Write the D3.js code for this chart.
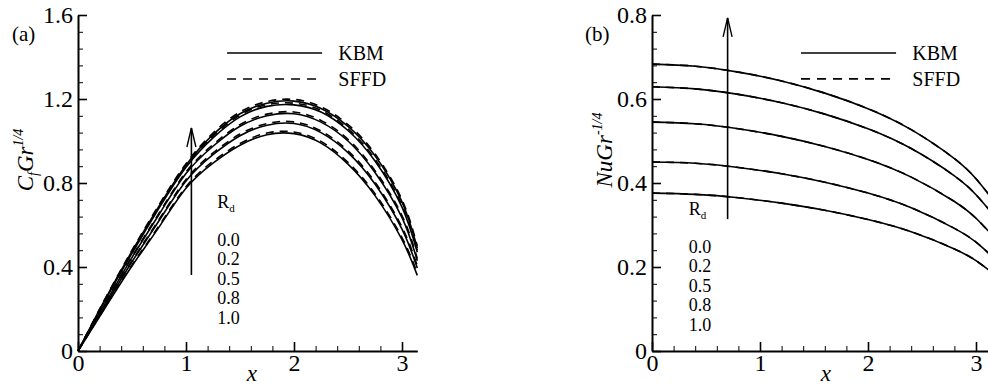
<!DOCTYPE html>
<html>
<head>
<meta charset="utf-8">
<script src="https://cdn.jsdelivr.net/npm/d3@7"></script>
<style>
  body { margin: 0; background: #fff; }
  text { font-family: "Liberation Serif", "Times New Roman", serif; fill: #000; }
</style>
</head>
<body>
<svg id="chart" width="988" height="385"></svg>
<script>
// R_d values, listed bottom curve first
const rdLabels = ['0.0', '0.2', '0.5', '0.8', '1.0'];

// panel (a): skin friction C_f Gr^1/4
const xCf = [0, 0.25, 0.5, 0.75, 1.0, 1.25, 1.5, 1.75, 2.0, 2.25, 2.5, 2.75, 3.0, Math.PI];
const cfKbm = [
  [0, 0.205, 0.405, 0.590, 0.775, 0.895, 0.980, 1.030, 1.035, 0.990, 0.890, 0.740, 0.530, 0.360],
  [0, 0.215, 0.425, 0.620, 0.810, 0.935, 1.025, 1.075, 1.083, 1.040, 0.945, 0.795, 0.580, 0.395],
  [0, 0.225, 0.445, 0.650, 0.845, 0.975, 1.070, 1.120, 1.130, 1.090, 1.000, 0.850, 0.635, 0.430],
  [0, 0.240, 0.465, 0.680, 0.875, 1.015, 1.115, 1.165, 1.172, 1.138, 1.050, 0.905, 0.685, 0.470],
  [0, 0.245, 0.475, 0.690, 0.885, 1.030, 1.130, 1.180, 1.190, 1.155, 1.070, 0.930, 0.710, 0.490]
];
const cfSffd = [
  [0, 0.208, 0.410, 0.596, 0.782, 0.903, 0.988, 1.038, 1.043, 0.998, 0.898, 0.749, 0.540, 0.370],
  [0, 0.218, 0.430, 0.626, 0.817, 0.943, 1.033, 1.083, 1.091, 1.048, 0.953, 0.804, 0.590, 0.405],
  [0, 0.228, 0.450, 0.656, 0.852, 0.983, 1.078, 1.128, 1.138, 1.098, 1.008, 0.859, 0.645, 0.440],
  [0, 0.243, 0.470, 0.686, 0.882, 1.023, 1.123, 1.173, 1.180, 1.146, 1.058, 0.914, 0.695, 0.480],
  [0, 0.248, 0.480, 0.696, 0.892, 1.038, 1.138, 1.188, 1.198, 1.163, 1.078, 0.939, 0.720, 0.500]
];

// panel (b): Nusselt number Nu Gr^-1/4
const xNu = [0, 0.4, 0.8, 1.2, 1.6, 2.0, 2.4, 2.8, 3.0, Math.PI];
const nuKbm = [
  [0.376, 0.373, 0.365, 0.352, 0.335, 0.313, 0.284, 0.243, 0.215, 0.188],
  [0.450, 0.447, 0.437, 0.422, 0.402, 0.376, 0.341, 0.292, 0.259, 0.227],
  [0.545, 0.541, 0.529, 0.511, 0.487, 0.456, 0.414, 0.356, 0.316, 0.278],
  [0.629, 0.624, 0.611, 0.591, 0.564, 0.529, 0.482, 0.417, 0.372, 0.330],
  [0.683, 0.678, 0.664, 0.643, 0.614, 0.577, 0.527, 0.458, 0.410, 0.365]
];
const nuSffd = [
  [0.376, 0.373, 0.365, 0.352, 0.335, 0.313, 0.284, 0.243, 0.215, 0.188],
  [0.450, 0.447, 0.437, 0.422, 0.402, 0.376, 0.341, 0.292, 0.259, 0.227],
  [0.545, 0.541, 0.529, 0.511, 0.487, 0.456, 0.414, 0.356, 0.316, 0.278],
  [0.629, 0.624, 0.611, 0.591, 0.564, 0.529, 0.482, 0.417, 0.372, 0.330],
  [0.683, 0.678, 0.664, 0.643, 0.614, 0.577, 0.527, 0.458, 0.410, 0.365]
];

const xTicks = [0, 1, 2, 3];
const cfTicks = [0, 0.4, 0.8, 1.2, 1.6];
const nuTicks = [0, 0.2, 0.4, 0.6, 0.8];
const legendNames = ['KBM', 'SFFD'];

const svg = d3.select('#chart');
svg.append('rect').attr('width', 988).attr('height', 385).attr('fill', '#fff');

const plotBottom = 351, plotTop = 15;
const serifFont = "'Liberation Serif'";

function drawPanel(o) {
    var x = d3.scaleLinear().domain([0, Math.PI]).range([o.x0, o.x0 + 108 * Math.PI]);
    var y = d3.scaleLinear().domain([0, o.yMax]).range([plotBottom, plotTop]);
    var g = svg.append('g');

    // minor ticks first, then major axes on top
    g.append('g')
        .attr('transform', 'translate(0,' + plotBottom + ')')
        .call(d3.axisBottom(x).tickValues(d3.range(0, 3.05, 0.2)).tickSize(-5).tickFormat(''))
        .call(a => a.select('.domain').remove());
    g.append('g')
        .attr('transform', 'translate(' + o.x0 + ',0)')
        .call(d3.axisLeft(y).tickValues(d3.range(0, o.yMax + 1e-9, o.yMinor)).tickSize(-5).tickFormat(''))
        .call(a => a.select('.domain').remove());

    var xa = g.append('g')
        .attr('transform', 'translate(0,' + plotBottom + ')')
        .call(d3.axisBottom(x).tickValues(xTicks).tickSize(-9).tickSizeOuter(0).tickPadding(3).tickFormat(d3.format('d')));
    var ya = g.append('g')
        .attr('transform', 'translate(' + o.x0 + ',0)')
        .call(d3.axisLeft(y).tickValues(o.ticks).tickSize(-9).tickSizeOuter(0).tickPadding(5)
            .tickFormat(d => d === 0 ? '0' : d3.format('.1f')(d)));
    [xa, ya].forEach(a => {
        a.attr('font-family', null).attr('font-size', null);
        a.selectAll('text').style('font-family', serifFont).style('font-size', '24px');
        a.selectAll('line').attr('stroke-width', 1.6);
        a.select('.domain').attr('stroke-width', 2);
    });
    g.selectAll('.tick line').attr('stroke', '#000');

    var line = d3.line()
        .x((d, i) => x(o.xs[i]))
        .y(d => y(d))
        .curve(d3.curveNatural);

    o.kbm.forEach(s => {
        g.append('path').attr('d', line(s)).attr('fill', 'none')
            .attr('stroke', '#000').attr('stroke-width', 1.6);
    });
    o.sffd.forEach(s => {
        g.append('path').attr('d', line(s)).attr('fill', 'none')
            .attr('stroke', '#000').attr('stroke-width', 1.6).attr('stroke-dasharray', '8,6');
    });

    // legend
    [o.legY1, o.legY2].forEach((ly, i) => {
        g.append('line')
            .attr('x1', x(1.38)).attr('x2', x(2.26))
            .attr('y1', y(ly)).attr('y2', y(ly))
            .attr('stroke', '#000').attr('stroke-width', 1.6)
            .attr('stroke-dasharray', i === 1 ? '9,7' : null);
        g.append('text')
            .attr('x', x(2.41)).attr('y', y(ly) + 7)
            .attr('font-size', 20)
            .text(legendNames[i]);
    });

    // arrow showing increasing R_d
    var ax = x(o.arrowX), ay0 = y(o.arrowY0), ay1 = y(o.arrowY1);
    g.append('line').attr('x1', ax).attr('x2', ax).attr('y1', ay0).attr('y2', ay1)
        .attr('stroke', '#000').attr('stroke-width', 1.6);
    g.append('path')
        .attr('d', 'M' + (ax - 4.5) + ',' + (ay1 + 19) + 'L' + ax + ',' + ay1 + 'L' + (ax + 4.5) + ',' + (ay1 + 19))
        .attr('fill', 'none').attr('stroke', '#000').attr('stroke-width', 1.4);

    // R_d list
    var rd = g.append('text').attr('x', x(o.rdX)).attr('y', o.rdY).attr('font-size', 18);
    rd.append('tspan').text('R');
    rd.append('tspan').attr('font-size', 11).attr('dy', 4).text('d');
    rdLabels.forEach((t, i) => {
        g.append('text').attr('x', x(o.rdX)).attr('y', o.rdY + 37.5 + i * 19.5)
            .attr('font-size', 18).text(t);
    });

    // panel tag
    g.append('text').attr('x', o.tagX).attr('y', 41).attr('font-size', 21).text(o.tag);

    // x label
    g.append('text').attr('x', x(1.61)).attr('y', 381)
        .attr('text-anchor', 'middle').attr('font-size', 23).attr('font-style', 'italic').text('x');

    // y label
    var yl = g.append('text')
        .attr('transform', 'translate(' + o.ylX + ',' + o.ylY + ') rotate(-90)')
        .attr('text-anchor', 'middle').attr('font-size', 23).attr('font-style', 'italic');
    o.yLabel(yl);
}

drawPanel({
    x0: 78, yMax: 1.6, yMinor: 0.08, ticks: cfTicks,
    xs: xCf, kbm: cfKbm, sffd: cfSffd,
    legY1: 1.419, legY2: 1.295,
    arrowX: 1.05, arrowY0: 0.362, arrowY1: 1.062,
    rdX: 1.29, rdY: 208,
    tag: '(a)', tagX: 12,
    ylX: 33, ylY: 160,
    yLabel: t => {
        t.append('tspan').text('C');
        t.append('tspan').attr('font-size', 14).attr('dy', 5).text('f');
        t.append('tspan').attr('dy', -5).text('Gr');
        t.append('tspan').attr('font-size', 14).attr('dy', -10).text('1/4');
    }
});

drawPanel({
    x0: 652, yMax: 0.8, yMinor: 0.04, ticks: nuTicks,
    xs: xNu, kbm: nuKbm, sffd: nuSffd,
    legY1: 0.7095, legY2: 0.648,
    arrowX: 0.70, arrowY0: 0.314, arrowY1: 0.793,
    rdX: 0.34, rdY: 215,
    tag: '(b)', tagX: 585,
    ylX: 612, ylY: 150,
    yLabel: t => {
        t.append('tspan').text('NuGr');
        t.append('tspan').attr('font-size', 14).attr('dy', -10).text('-1/4');
    }
});
</script>
</body>
</html>
